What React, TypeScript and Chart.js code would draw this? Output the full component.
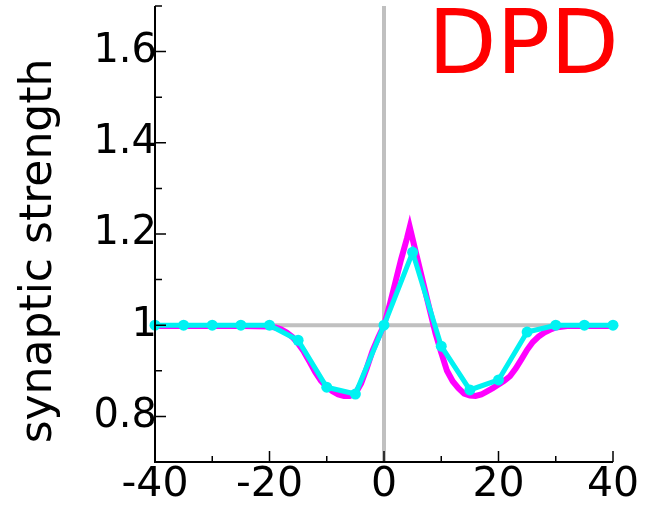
import React, { useEffect, useRef } from "react";
import { Chart, registerables } from "chart.js";

Chart.register(...registerables);

// Measured (cyan) series: x positions and synaptic strength
const measuredX = [-40, -35, -30, -25, -20, -15, -10, -5, 0, 5, 10, 15, 20, 25, 30, 35, 40];
const measuredY = [1.0, 1.0, 1.0, 1.0, 1.0, 0.967, 0.864, 0.849, 1.0, 1.16, 0.954, 0.858, 0.88, 0.985, 1.0, 1.0, 1.0];

// Model (magenta) curve
const modelX = [-40, -25, -20, -19, -18, -17, -16, -15, -14, -13, -12, -11, -10, -9, -8, -7, -6, -5, -4, -3, -2, -1, 0, 1, 2, 3, 4, 4.5, 5, 6, 7, 8, 9, 10, 11, 12, 13, 14, 15, 16, 17, 18, 19, 20, 21, 22, 23, 24, 25, 26, 27, 28, 29, 30, 32, 34, 40];
const modelY = [0.998, 0.998, 0.997, 0.995, 0.991, 0.984, 0.974, 0.96, 0.942, 0.92, 0.897, 0.878, 0.865, 0.855, 0.848, 0.845, 0.845, 0.85, 0.872, 0.906, 0.944, 0.973, 1.0, 1.045, 1.095, 1.145, 1.19, 1.215, 1.189, 1.137, 1.085, 1.033, 0.982, 0.94, 0.9, 0.877, 0.862, 0.85, 0.846, 0.845, 0.848, 0.855, 0.862, 0.87, 0.878, 0.888, 0.905, 0.925, 0.946, 0.963, 0.975, 0.984, 0.99, 0.995, 0.998, 0.998, 0.998];

// Axis ticks
const xMajorTicks = [-40, -20, 0, 20, 40];
const xMinorTicks = [-30, -10, 10, 30];
const yMajorTicks = [0.8, 1.0, 1.2, 1.4, 1.6];
const yMinorTicks = [0.7, 0.9, 1.1, 1.3, 1.5, 1.7];

const yTitle = "synaptic strength";
const panelLabel = "DPD";

const FONT = "'DejaVu Sans', sans-serif";

const decorPlugin = {
  id: "decor",
  beforeDatasetsDraw(chart: any) {
    const { ctx, chartArea, scales } = chart;
    const x0 = scales.x.getPixelForValue(0);
    const y1 = scales.y.getPixelForValue(1);
    ctx.save();
    ctx.strokeStyle = "#c0c0c0";
    ctx.lineWidth = 4;
    ctx.beginPath();
    ctx.moveTo(chartArea.left, y1);
    ctx.lineTo(chartArea.right, y1);
    ctx.moveTo(x0, chartArea.top);
    ctx.lineTo(x0, chartArea.bottom);
    ctx.stroke();
    ctx.restore();
  },
  afterDraw(chart: any) {
    const { ctx, chartArea, scales } = chart;
    const { left, right, top, bottom } = chartArea;
    ctx.save();
    ctx.strokeStyle = "#000";
    ctx.lineWidth = 2;
    ctx.beginPath();
    ctx.moveTo(left, top);
    ctx.lineTo(left, bottom);
    ctx.lineTo(right, bottom);
    ctx.stroke();
    ctx.lineWidth = 1.5;
    ctx.beginPath();
    xMajorTicks.forEach((v) => {
      const p = scales.x.getPixelForValue(v);
      ctx.moveTo(p, bottom);
      ctx.lineTo(p, bottom - 11);
    });
    xMinorTicks.forEach((v) => {
      const p = scales.x.getPixelForValue(v);
      ctx.moveTo(p, bottom);
      ctx.lineTo(p, bottom - 6);
    });
    yMajorTicks.forEach((v) => {
      const p = scales.y.getPixelForValue(v);
      ctx.moveTo(left, p);
      ctx.lineTo(left + 11, p);
    });
    yMinorTicks.forEach((v) => {
      const p = scales.y.getPixelForValue(v);
      ctx.moveTo(left, p);
      ctx.lineTo(left + 7, p);
    });
    ctx.stroke();

    // y axis title
    ctx.fillStyle = "#000";
    ctx.font = `44px ${FONT}`;
    ctx.textAlign = "center";
    ctx.textBaseline = "alphabetic";
    ctx.translate(51, 251);
    ctx.rotate(-Math.PI / 2);
    ctx.fillText(yTitle, 0, 0);
    ctx.restore();

    // panel label
    ctx.save();
    ctx.fillStyle = "#ff0000";
    ctx.font = `89px ${FONT}`;
    ctx.textAlign = "left";
    ctx.textBaseline = "alphabetic";
    ctx.fillText(panelLabel, 428, 73);
    ctx.restore();
  },
};

export default function App() {
  const canvasRef = useRef<HTMLCanvasElement | null>(null);

  useEffect(() => {
    const canvas = canvasRef.current;
    if (!canvas) return;
    const chart = new Chart(canvas, {
      type: "line",
      data: {
        datasets: [
          {
            label: "measured",
            data: measuredX.map((x, i) => ({ x, y: measuredY[i] })),
            borderColor: "#00f2f2",
            backgroundColor: "#00f2f2",
            borderWidth: 5,
            pointRadius: 5.5,
            pointBorderWidth: 0,
            pointBackgroundColor: "#00f2f2",
            tension: 0,
            clip: false,
          } as any,
          {
            label: "model",
            data: modelX.map((x, i) => ({ x, y: modelY[i] })),
            borderColor: "#ff00ff",
            backgroundColor: "#ff00ff",
            borderWidth: 6,
            pointRadius: 0,
            tension: 0,
            clip: false,
          } as any,
        ],
      },
      options: {
        responsive: false,
        animation: false,
        events: [],
        layout: { padding: { top: 6, right: 44, left: 0, bottom: 0 } },
        plugins: {
          legend: { display: false },
          tooltip: { enabled: false },
          title: { display: false },
        },
        scales: {
          x: {
            type: "linear",
            min: -40,
            max: 40,
            grid: { display: false, drawTicks: false },
            border: { display: false },
            ticks: {
              color: "#000",
              font: { family: FONT, size: 41 },
              padding: -1,
              maxRotation: 0,
              autoSkip: false,
              callback: (v: any) => String(v),
            },
            afterBuildTicks: (scale: any) => {
              scale.ticks = xMajorTicks.map((v) => ({ value: v }));
            },
            afterFit: (scale: any) => {
              scale.height = 47;
              scale.paddingLeft = 0;
              scale.paddingRight = 0;
            },
          },
          y: {
            type: "linear",
            min: 0.7,
            max: 1.7,
            grid: { display: false, drawTicks: false },
            border: { display: false },
            ticks: {
              color: "#000",
              font: { family: FONT, size: 40 },
              padding: -2,
              autoSkip: false,
              callback: (v: any) => String(Math.round(Number(v) * 10) / 10),
            },
            afterBuildTicks: (scale: any) => {
              scale.ticks = yMajorTicks.map((v) => ({ value: v }));
            },
            afterFit: (scale: any) => {
              scale.width = 155;
              scale.paddingTop = 0;
              scale.paddingBottom = 0;
            },
          },
        },
      },
      plugins: [decorPlugin],
    });
    return () => chart.destroy();
  }, []);

  return (
    <div style={{ position: "fixed", left: 0, top: 0, width: 657, height: 509, background: "#fff" }}>
      <canvas ref={canvasRef} width={657} height={509} style={{ width: 657, height: 509 }} />
    </div>
  );
}
